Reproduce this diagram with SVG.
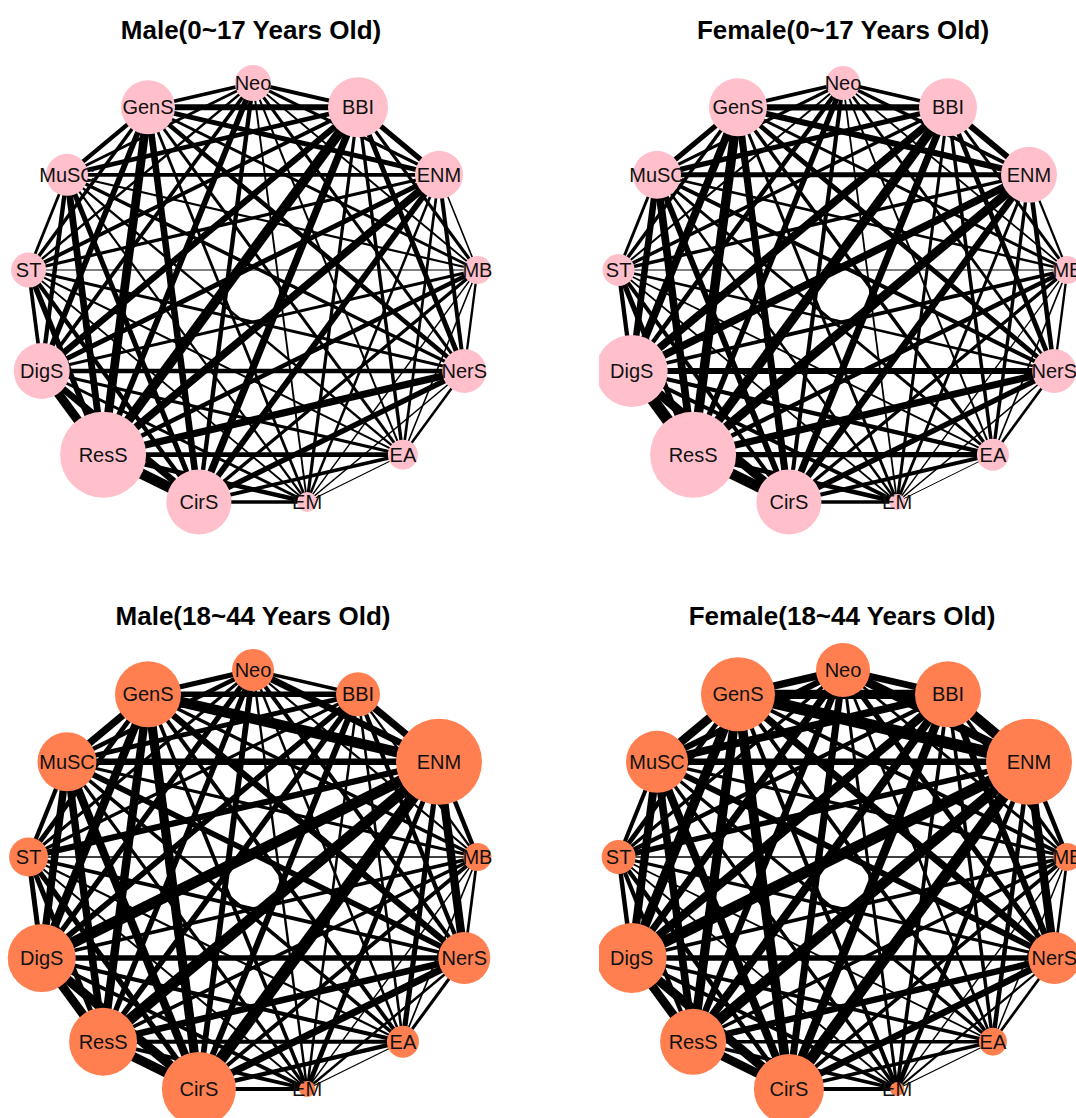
<svg xmlns="http://www.w3.org/2000/svg" width="1076" height="1118" viewBox="0 0 1076 1118">
<style>
.tt{font-family:"Liberation Sans",Arial,sans-serif;font-size:26px;font-weight:bold;text-anchor:middle;fill:#000}
.lb{font-family:"Liberation Sans",Arial,sans-serif;font-size:20px;text-anchor:middle;fill:#111}
.edges{stroke:#000;fill:none}
.pk circle{fill:#FFC0CB}
.co circle{fill:#FF7F50}
</style>
<defs>
<clipPath id="clipR"><rect x="599" y="0" width="477" height="1118"/></clipPath>
<line id="e0-1" x1="0" y1="-212.6" x2="105" y2="-188.3"/>
<line id="e0-2" x1="0" y1="-212.6" x2="186" y2="-120.8"/>
<line id="e0-3" x1="0" y1="-212.6" x2="224.4" y2="-25.6"/>
<line id="e0-4" x1="0" y1="-212.6" x2="211.3" y2="75.4"/>
<line id="e0-5" x1="0" y1="-212.6" x2="149.9" y2="159.1"/>
<line id="e0-6" x1="0" y1="-212.6" x2="54.1" y2="206.4"/>
<line id="e0-7" x1="0" y1="-212.6" x2="-54.1" y2="206.4"/>
<line id="e0-8" x1="0" y1="-212.6" x2="-149.9" y2="159.1"/>
<line id="e0-9" x1="0" y1="-212.6" x2="-211.3" y2="75.4"/>
<line id="e0-10" x1="0" y1="-212.6" x2="-224.4" y2="-25.6"/>
<line id="e0-11" x1="0" y1="-212.6" x2="-186" y2="-120.8"/>
<line id="e0-12" x1="0" y1="-212.6" x2="-105" y2="-188.3"/>
<line id="e1-2" x1="105" y1="-188.3" x2="186" y2="-120.8"/>
<line id="e1-3" x1="105" y1="-188.3" x2="224.4" y2="-25.6"/>
<line id="e1-4" x1="105" y1="-188.3" x2="211.3" y2="75.4"/>
<line id="e1-5" x1="105" y1="-188.3" x2="149.9" y2="159.1"/>
<line id="e1-6" x1="105" y1="-188.3" x2="54.1" y2="206.4"/>
<line id="e1-7" x1="105" y1="-188.3" x2="-54.1" y2="206.4"/>
<line id="e1-8" x1="105" y1="-188.3" x2="-149.9" y2="159.1"/>
<line id="e1-9" x1="105" y1="-188.3" x2="-211.3" y2="75.4"/>
<line id="e1-10" x1="105" y1="-188.3" x2="-224.4" y2="-25.6"/>
<line id="e1-11" x1="105" y1="-188.3" x2="-186" y2="-120.8"/>
<line id="e1-12" x1="105" y1="-188.3" x2="-105" y2="-188.3"/>
<line id="e2-3" x1="186" y1="-120.8" x2="224.4" y2="-25.6"/>
<line id="e2-4" x1="186" y1="-120.8" x2="211.3" y2="75.4"/>
<line id="e2-5" x1="186" y1="-120.8" x2="149.9" y2="159.1"/>
<line id="e2-6" x1="186" y1="-120.8" x2="54.1" y2="206.4"/>
<line id="e2-7" x1="186" y1="-120.8" x2="-54.1" y2="206.4"/>
<line id="e2-8" x1="186" y1="-120.8" x2="-149.9" y2="159.1"/>
<line id="e2-9" x1="186" y1="-120.8" x2="-211.3" y2="75.4"/>
<line id="e2-10" x1="186" y1="-120.8" x2="-224.4" y2="-25.6"/>
<line id="e2-11" x1="186" y1="-120.8" x2="-186" y2="-120.8"/>
<line id="e2-12" x1="186" y1="-120.8" x2="-105" y2="-188.3"/>
<line id="e3-4" x1="224.4" y1="-25.6" x2="211.3" y2="75.4"/>
<line id="e3-5" x1="224.4" y1="-25.6" x2="149.9" y2="159.1"/>
<line id="e3-6" x1="224.4" y1="-25.6" x2="54.1" y2="206.4"/>
<line id="e3-7" x1="224.4" y1="-25.6" x2="-54.1" y2="206.4"/>
<line id="e3-8" x1="224.4" y1="-25.6" x2="-149.9" y2="159.1"/>
<line id="e3-9" x1="224.4" y1="-25.6" x2="-211.3" y2="75.4"/>
<line id="e3-10" x1="224.4" y1="-25.6" x2="-224.4" y2="-25.6"/>
<line id="e3-11" x1="224.4" y1="-25.6" x2="-186" y2="-120.8"/>
<line id="e3-12" x1="224.4" y1="-25.6" x2="-105" y2="-188.3"/>
<line id="e4-5" x1="211.3" y1="75.4" x2="149.9" y2="159.1"/>
<line id="e4-6" x1="211.3" y1="75.4" x2="54.1" y2="206.4"/>
<line id="e4-7" x1="211.3" y1="75.4" x2="-54.1" y2="206.4"/>
<line id="e4-8" x1="211.3" y1="75.4" x2="-149.9" y2="159.1"/>
<line id="e4-9" x1="211.3" y1="75.4" x2="-211.3" y2="75.4"/>
<line id="e4-10" x1="211.3" y1="75.4" x2="-224.4" y2="-25.6"/>
<line id="e4-11" x1="211.3" y1="75.4" x2="-186" y2="-120.8"/>
<line id="e4-12" x1="211.3" y1="75.4" x2="-105" y2="-188.3"/>
<line id="e5-6" x1="149.9" y1="159.1" x2="54.1" y2="206.4"/>
<line id="e5-7" x1="149.9" y1="159.1" x2="-54.1" y2="206.4"/>
<line id="e5-8" x1="149.9" y1="159.1" x2="-149.9" y2="159.1"/>
<line id="e5-9" x1="149.9" y1="159.1" x2="-211.3" y2="75.4"/>
<line id="e5-10" x1="149.9" y1="159.1" x2="-224.4" y2="-25.6"/>
<line id="e5-11" x1="149.9" y1="159.1" x2="-186" y2="-120.8"/>
<line id="e5-12" x1="149.9" y1="159.1" x2="-105" y2="-188.3"/>
<line id="e6-7" x1="54.1" y1="206.4" x2="-54.1" y2="206.4"/>
<line id="e6-8" x1="54.1" y1="206.4" x2="-149.9" y2="159.1"/>
<line id="e6-9" x1="54.1" y1="206.4" x2="-211.3" y2="75.4"/>
<line id="e6-10" x1="54.1" y1="206.4" x2="-224.4" y2="-25.6"/>
<line id="e6-11" x1="54.1" y1="206.4" x2="-186" y2="-120.8"/>
<line id="e6-12" x1="54.1" y1="206.4" x2="-105" y2="-188.3"/>
<line id="e7-8" x1="-54.1" y1="206.4" x2="-149.9" y2="159.1"/>
<line id="e7-9" x1="-54.1" y1="206.4" x2="-211.3" y2="75.4"/>
<line id="e7-10" x1="-54.1" y1="206.4" x2="-224.4" y2="-25.6"/>
<line id="e7-11" x1="-54.1" y1="206.4" x2="-186" y2="-120.8"/>
<line id="e7-12" x1="-54.1" y1="206.4" x2="-105" y2="-188.3"/>
<line id="e8-9" x1="-149.9" y1="159.1" x2="-211.3" y2="75.4"/>
<line id="e8-10" x1="-149.9" y1="159.1" x2="-224.4" y2="-25.6"/>
<line id="e8-11" x1="-149.9" y1="159.1" x2="-186" y2="-120.8"/>
<line id="e8-12" x1="-149.9" y1="159.1" x2="-105" y2="-188.3"/>
<line id="e9-10" x1="-211.3" y1="75.4" x2="-224.4" y2="-25.6"/>
<line id="e9-11" x1="-211.3" y1="75.4" x2="-186" y2="-120.8"/>
<line id="e9-12" x1="-211.3" y1="75.4" x2="-105" y2="-188.3"/>
<line id="e10-11" x1="-224.4" y1="-25.6" x2="-186" y2="-120.8"/>
<line id="e10-12" x1="-224.4" y1="-25.6" x2="-105" y2="-188.3"/>
<line id="e11-12" x1="-186" y1="-120.8" x2="-105" y2="-188.3"/>
</defs>
<rect width="1076" height="1118" fill="#fff"/>

<!-- Panel 1 -->
<g id="panel1">
<text class="tt" x="251" y="39">Male(0~17 Years Old)</text>
<g id="p1-edges" class="edges" transform="translate(253,295.6)">
<use href="#e0-1" stroke-width="4"/><use href="#e0-2" stroke-width="3.2"/><use href="#e0-3" stroke-width="1.9"/><use href="#e0-4" stroke-width="3"/><use href="#e0-5" stroke-width="2"/><use href="#e0-6" stroke-width="1.9"/><use href="#e0-7" stroke-width="4.4"/><use href="#e0-8" stroke-width="5.8"/><use href="#e0-9" stroke-width="3.8"/><use href="#e0-10" stroke-width="2.4"/><use href="#e0-11" stroke-width="2.8"/><use href="#e0-12" stroke-width="3.6"/>
<use href="#e1-2" stroke-width="5.4"/><use href="#e1-3" stroke-width="3.2"/><use href="#e1-4" stroke-width="5"/><use href="#e1-5" stroke-width="3.4"/><use href="#e1-6" stroke-width="3.2"/><use href="#e1-7" stroke-width="7.3"/><use href="#e1-8" stroke-width="9.7"/><use href="#e1-9" stroke-width="6.3"/><use href="#e1-10" stroke-width="3.9"/><use href="#e1-11" stroke-width="4.7"/><use href="#e1-12" stroke-width="6.1"/>
<use href="#e2-3" stroke-width="1.6"/><use href="#e2-4" stroke-width="4"/><use href="#e2-5" stroke-width="2.7"/><use href="#e2-6" stroke-width="2.5"/><use href="#e2-7" stroke-width="5.9"/><use href="#e2-8" stroke-width="7.7"/><use href="#e2-9" stroke-width="5"/><use href="#e2-10" stroke-width="3.2"/><use href="#e2-11" stroke-width="3.8"/><use href="#e2-12" stroke-width="4.9"/>
<use href="#e3-4" stroke-width="2.3"/><use href="#e3-5" stroke-width="1.6"/><use href="#e3-6" stroke-width="1.3"/><use href="#e3-7" stroke-width="3.4"/><use href="#e3-8" stroke-width="4.5"/><use href="#e3-9" stroke-width="2.9"/><use href="#e3-10" stroke-width="1.2"/><use href="#e3-11" stroke-width="2.2"/><use href="#e3-12" stroke-width="2.8"/>
<use href="#e4-5" stroke-width="2.5"/><use href="#e4-6" stroke-width="1.6"/><use href="#e4-7" stroke-width="5.4"/><use href="#e4-8" stroke-width="7.1"/><use href="#e4-9" stroke-width="4.6"/><use href="#e4-10" stroke-width="2.9"/><use href="#e4-11" stroke-width="3.5"/><use href="#e4-12" stroke-width="4.5"/>
<use href="#e5-6" stroke-width="1.1"/><use href="#e5-7" stroke-width="3.7"/><use href="#e5-8" stroke-width="4.8"/><use href="#e5-9" stroke-width="3.2"/><use href="#e5-10" stroke-width="2"/><use href="#e5-11" stroke-width="2.4"/><use href="#e5-12" stroke-width="3"/>
<use href="#e6-7" stroke-width="3.4"/><use href="#e6-8" stroke-width="4.5"/><use href="#e6-9" stroke-width="2.9"/><use href="#e6-10" stroke-width="1.8"/><use href="#e6-11" stroke-width="2.2"/><use href="#e6-12" stroke-width="2.8"/>
<use href="#e7-8" stroke-width="10.5"/><use href="#e7-9" stroke-width="6.8"/><use href="#e7-10" stroke-width="4.3"/><use href="#e7-11" stroke-width="5.1"/><use href="#e7-12" stroke-width="6.6"/>
<use href="#e8-9" stroke-width="9"/><use href="#e8-10" stroke-width="5.6"/><use href="#e8-11" stroke-width="6.8"/><use href="#e8-12" stroke-width="8.7"/>
<use href="#e9-10" stroke-width="3.7"/><use href="#e9-11" stroke-width="4.4"/><use href="#e9-12" stroke-width="5.7"/>
<use href="#e10-11" stroke-width="2.8"/><use href="#e10-12" stroke-width="3.5"/><use href="#e11-12" stroke-width="4.3"/>
</g>
<g class="pk" transform="translate(253,295.6)">
<g id="p1-Neo"><circle cx="0" cy="-212.6" r="18"/><text class="lb" x="0" y="-205.6">Neo</text></g>
<g id="p1-BBI"><circle cx="105" cy="-188.3" r="30"/><text class="lb" x="105" y="-181.3">BBI</text></g>
<g id="p1-ENM"><circle cx="186" cy="-120.8" r="24"/><text class="lb" x="186" y="-113.8">ENM</text></g>
<g id="p1-MB"><circle cx="224.4" cy="-25.6" r="14"/><text class="lb" x="224.4" y="-18.6">MB</text></g>
<g id="p1-NerS"><circle cx="211.3" cy="75.4" r="22"/><text class="lb" x="211.3" y="82.4">NerS</text></g>
<g id="p1-EA"><circle cx="149.9" cy="159.1" r="15"/><text class="lb" x="149.9" y="166.1">EA</text></g>
<g id="p1-EM"><circle cx="54.1" cy="206.4" r="10"/><text class="lb" x="54.1" y="213.4">EM</text></g>
<g id="p1-CirS"><circle cx="-54.1" cy="206.4" r="32.5"/><text class="lb" x="-54.1" y="213.4">CirS</text></g>
<g id="p1-ResS"><circle cx="-149.9" cy="159.1" r="43"/><text class="lb" x="-149.9" y="166.1">ResS</text></g>
<g id="p1-DigS"><circle cx="-211.3" cy="75.4" r="28"/><text class="lb" x="-211.3" y="82.4">DigS</text></g>
<g id="p1-ST"><circle cx="-224.4" cy="-25.6" r="17.5"/><text class="lb" x="-224.4" y="-18.6">ST</text></g>
<g id="p1-MuSC"><circle cx="-186" cy="-120.8" r="21"/><text class="lb" x="-186" y="-113.8">MuSC</text></g>
<g id="p1-GenS"><circle cx="-105" cy="-188.3" r="27"/><text class="lb" x="-105" y="-181.3">GenS</text></g>
</g>
</g>

<!-- Panel 2 -->
<g id="panel2">
<text class="tt" x="843" y="39">Female(0~17 Years Old)</text>
<g clip-path="url(#clipR)">
<g id="p2-edges" class="edges" transform="translate(843,295.6)">
<use href="#e0-1" stroke-width="3.7"/><use href="#e0-2" stroke-width="3.6"/><use href="#e0-3" stroke-width="1.8"/><use href="#e0-4" stroke-width="2.8"/><use href="#e0-5" stroke-width="2"/><use href="#e0-6" stroke-width="1.8"/><use href="#e0-7" stroke-width="4.1"/><use href="#e0-8" stroke-width="5.5"/><use href="#e0-9" stroke-width="4.6"/><use href="#e0-10" stroke-width="2"/><use href="#e0-11" stroke-width="3.1"/><use href="#e0-12" stroke-width="3.7"/>
<use href="#e1-2" stroke-width="6.1"/><use href="#e1-3" stroke-width="3"/><use href="#e1-4" stroke-width="4.8"/><use href="#e1-5" stroke-width="3.5"/><use href="#e1-6" stroke-width="3"/><use href="#e1-7" stroke-width="7.1"/><use href="#e1-8" stroke-width="9.4"/><use href="#e1-9" stroke-width="7.8"/><use href="#e1-10" stroke-width="3.5"/><use href="#e1-11" stroke-width="5.2"/><use href="#e1-12" stroke-width="6.3"/>
<use href="#e2-3" stroke-width="2.2"/><use href="#e2-4" stroke-width="4.6"/><use href="#e2-5" stroke-width="3.4"/><use href="#e2-6" stroke-width="2.9"/><use href="#e2-7" stroke-width="6.8"/><use href="#e2-8" stroke-width="9"/><use href="#e2-9" stroke-width="7.6"/><use href="#e2-10" stroke-width="3.4"/><use href="#e2-11" stroke-width="5"/><use href="#e2-12" stroke-width="6.1"/>
<use href="#e3-4" stroke-width="2.3"/><use href="#e3-5" stroke-width="1.7"/><use href="#e3-6" stroke-width="1.3"/><use href="#e3-7" stroke-width="3.4"/><use href="#e3-8" stroke-width="4.5"/><use href="#e3-9" stroke-width="3.8"/><use href="#e3-10" stroke-width="1.2"/><use href="#e3-11" stroke-width="2.5"/><use href="#e3-12" stroke-width="3"/>
<use href="#e4-5" stroke-width="2.6"/><use href="#e4-6" stroke-width="1.6"/><use href="#e4-7" stroke-width="5.4"/><use href="#e4-8" stroke-width="7.1"/><use href="#e4-9" stroke-width="5.9"/><use href="#e4-10" stroke-width="2.6"/><use href="#e4-11" stroke-width="4"/><use href="#e4-12" stroke-width="4.8"/>
<use href="#e5-6" stroke-width="1"/><use href="#e5-7" stroke-width="3.9"/><use href="#e5-8" stroke-width="5.2"/><use href="#e5-9" stroke-width="4.3"/><use href="#e5-10" stroke-width="1.9"/><use href="#e5-11" stroke-width="2.9"/><use href="#e5-12" stroke-width="3.5"/>
<use href="#e6-7" stroke-width="3.4"/><use href="#e6-8" stroke-width="4.5"/><use href="#e6-9" stroke-width="3.8"/><use href="#e6-10" stroke-width="1.7"/><use href="#e6-11" stroke-width="2.5"/><use href="#e6-12" stroke-width="3"/>
<use href="#e7-8" stroke-width="10.5"/><use href="#e7-9" stroke-width="8.8"/><use href="#e7-10" stroke-width="3.9"/><use href="#e7-11" stroke-width="5.9"/><use href="#e7-12" stroke-width="7.1"/>
<use href="#e8-9" stroke-width="11.6"/><use href="#e8-10" stroke-width="5.2"/><use href="#e8-11" stroke-width="7.7"/><use href="#e8-12" stroke-width="9.4"/>
<use href="#e9-10" stroke-width="4.3"/><use href="#e9-11" stroke-width="6.5"/><use href="#e9-12" stroke-width="7.8"/>
<use href="#e10-11" stroke-width="2.9"/><use href="#e10-12" stroke-width="3.5"/><use href="#e11-12" stroke-width="5.2"/>
</g>
<g class="pk" transform="translate(843,295.6)">
<g id="p2-Neo"><circle cx="0" cy="-212.6" r="17"/><text class="lb" x="0" y="-205.6">Neo</text></g>
<g id="p2-BBI"><circle cx="105" cy="-188.3" r="29"/><text class="lb" x="105" y="-181.3">BBI</text></g>
<g id="p2-ENM"><circle cx="186" cy="-120.8" r="28"/><text class="lb" x="186" y="-113.8">ENM</text></g>
<g id="p2-MB"><circle cx="224.4" cy="-25.6" r="14"/><text class="lb" x="224.4" y="-18.6">MB</text></g>
<g id="p2-NerS"><circle cx="211.3" cy="75.4" r="22"/><text class="lb" x="211.3" y="82.4">NerS</text></g>
<g id="p2-EA"><circle cx="149.9" cy="159.1" r="16"/><text class="lb" x="149.9" y="166.1">EA</text></g>
<g id="p2-EM"><circle cx="54.1" cy="206.4" r="8"/><text class="lb" x="54.1" y="213.4">EM</text></g>
<g id="p2-CirS"><circle cx="-54.1" cy="206.4" r="32.5"/><text class="lb" x="-54.1" y="213.4">CirS</text></g>
<g id="p2-ResS"><circle cx="-149.9" cy="159.1" r="43"/><text class="lb" x="-149.9" y="166.1">ResS</text></g>
<g id="p2-DigS"><circle cx="-211.3" cy="75.4" r="36"/><text class="lb" x="-211.3" y="82.4">DigS</text></g>
<g id="p2-ST"><circle cx="-224.4" cy="-25.6" r="16"/><text class="lb" x="-224.4" y="-18.6">ST</text></g>
<g id="p2-MuSC"><circle cx="-186" cy="-120.8" r="24"/><text class="lb" x="-186" y="-113.8">MuSC</text></g>
<g id="p2-GenS"><circle cx="-105" cy="-188.3" r="29"/><text class="lb" x="-105" y="-181.3">GenS</text></g>
</g>
</g>
</g>

<!-- Panel 3 -->
<g id="panel3">
<text class="tt" x="253" y="625">Male(18~44 Years Old)</text>
<g id="p3-edges" class="edges" transform="translate(253,882.6)">
<use href="#e0-1" stroke-width="3.5"/><use href="#e0-2" stroke-width="6.8"/><use href="#e0-3" stroke-width="2.2"/><use href="#e0-4" stroke-width="4.1"/><use href="#e0-5" stroke-width="2.5"/><use href="#e0-6" stroke-width="2.4"/><use href="#e0-7" stroke-width="5.8"/><use href="#e0-8" stroke-width="5.4"/><use href="#e0-9" stroke-width="5.4"/><use href="#e0-10" stroke-width="3.1"/><use href="#e0-11" stroke-width="4.6"/><use href="#e0-12" stroke-width="5.2"/>
<use href="#e1-2" stroke-width="7.1"/><use href="#e1-3" stroke-width="2.3"/><use href="#e1-4" stroke-width="4.3"/><use href="#e1-5" stroke-width="2.6"/><use href="#e1-6" stroke-width="2.5"/><use href="#e1-7" stroke-width="6.1"/><use href="#e1-8" stroke-width="5.6"/><use href="#e1-9" stroke-width="5.6"/><use href="#e1-10" stroke-width="3.2"/><use href="#e1-11" stroke-width="4.9"/><use href="#e1-12" stroke-width="5.4"/>
<use href="#e2-3" stroke-width="4.5"/><use href="#e2-4" stroke-width="8.4"/><use href="#e2-5" stroke-width="5.2"/><use href="#e2-6" stroke-width="4.8"/><use href="#e2-7" stroke-width="11.9"/><use href="#e2-8" stroke-width="11"/><use href="#e2-9" stroke-width="11"/><use href="#e2-10" stroke-width="6.3"/><use href="#e2-11" stroke-width="6.5"/><use href="#e2-12" stroke-width="10.6"/>
<use href="#e3-4" stroke-width="2.7"/><use href="#e3-5" stroke-width="1.7"/><use href="#e3-6" stroke-width="1.4"/><use href="#e3-7" stroke-width="3.9"/><use href="#e3-8" stroke-width="3.6"/><use href="#e3-9" stroke-width="3.6"/><use href="#e3-10" stroke-width="1.3"/><use href="#e3-11" stroke-width="3.1"/><use href="#e3-12" stroke-width="3.5"/>
<use href="#e4-5" stroke-width="3.1"/><use href="#e4-6" stroke-width="2.5"/><use href="#e4-7" stroke-width="7.2"/><use href="#e4-8" stroke-width="6.6"/><use href="#e4-9" stroke-width="5.5"/><use href="#e4-10" stroke-width="3.8"/><use href="#e4-11" stroke-width="5.8"/><use href="#e4-12" stroke-width="6.4"/>
<use href="#e5-6" stroke-width="1.2"/><use href="#e5-7" stroke-width="4.4"/><use href="#e5-8" stroke-width="4.1"/><use href="#e5-9" stroke-width="4.1"/><use href="#e5-10" stroke-width="2.3"/><use href="#e5-11" stroke-width="3.5"/><use href="#e5-12" stroke-width="4"/>
<use href="#e6-7" stroke-width="4.2"/><use href="#e6-8" stroke-width="3.8"/><use href="#e6-9" stroke-width="3.8"/><use href="#e6-10" stroke-width="2"/><use href="#e6-11" stroke-width="3.3"/><use href="#e6-12" stroke-width="3.7"/>
<use href="#e7-8" stroke-width="9.4"/><use href="#e7-9" stroke-width="9.4"/><use href="#e7-10" stroke-width="5.4"/><use href="#e7-11" stroke-width="8.2"/><use href="#e7-12" stroke-width="9.2"/>
<use href="#e8-9" stroke-width="8.7"/><use href="#e8-10" stroke-width="5"/><use href="#e8-11" stroke-width="7.5"/><use href="#e8-12" stroke-width="8.4"/>
<use href="#e9-10" stroke-width="5"/><use href="#e9-11" stroke-width="7.5"/><use href="#e9-12" stroke-width="8.4"/>
<use href="#e10-11" stroke-width="4.3"/><use href="#e10-12" stroke-width="4.8"/><use href="#e11-12" stroke-width="7.3"/>
</g>
<g class="co" transform="translate(253,882.6)">
<g id="p3-Neo"><circle cx="0" cy="-212.6" r="21"/><text class="lb" x="0" y="-205.6">Neo</text></g>
<g id="p3-BBI"><circle cx="105" cy="-188.3" r="22"/><text class="lb" x="105" y="-181.3">BBI</text></g>
<g id="p3-ENM"><circle cx="186" cy="-120.8" r="43"/><text class="lb" x="186" y="-113.8">ENM</text></g>
<g id="p3-MB"><circle cx="224.4" cy="-25.6" r="14"/><text class="lb" x="224.4" y="-18.6">MB</text></g>
<g id="p3-NerS"><circle cx="211.3" cy="75.4" r="26"/><text class="lb" x="211.3" y="82.4">NerS</text></g>
<g id="p3-EA"><circle cx="149.9" cy="159.1" r="16"/><text class="lb" x="149.9" y="166.1">EA</text></g>
<g id="p3-EM"><circle cx="54.1" cy="206.4" r="8"/><text class="lb" x="54.1" y="213.4">EM</text></g>
<g id="p3-CirS"><circle cx="-54.1" cy="206.4" r="37"/><text class="lb" x="-54.1" y="213.4">CirS</text></g>
<g id="p3-ResS"><circle cx="-149.9" cy="159.1" r="34"/><text class="lb" x="-149.9" y="166.1">ResS</text></g>
<g id="p3-DigS"><circle cx="-211.3" cy="75.4" r="34"/><text class="lb" x="-211.3" y="82.4">DigS</text></g>
<g id="p3-ST"><circle cx="-224.4" cy="-25.6" r="19.5"/><text class="lb" x="-224.4" y="-18.6">ST</text></g>
<g id="p3-MuSC"><circle cx="-186" cy="-120.8" r="29.5"/><text class="lb" x="-186" y="-113.8">MuSC</text></g>
<g id="p3-GenS"><circle cx="-105" cy="-188.3" r="33"/><text class="lb" x="-105" y="-181.3">GenS</text></g>
</g>
</g>

<!-- Panel 4 -->
<g id="panel4">
<text class="tt" x="842" y="625">Female(18~44 Years Old)</text>
<g clip-path="url(#clipR)">
<g id="p4-edges" class="edges" transform="translate(843,882.6)">
<use href="#e0-1" stroke-width="6.7"/><use href="#e0-2" stroke-width="8.7"/><use href="#e0-3" stroke-width="2.8"/><use href="#e0-4" stroke-width="5.3"/><use href="#e0-5" stroke-width="2.8"/><use href="#e0-6" stroke-width="3"/><use href="#e0-7" stroke-width="7.1"/><use href="#e0-8" stroke-width="6.7"/><use href="#e0-9" stroke-width="7.1"/><use href="#e0-10" stroke-width="3.4"/><use href="#e0-11" stroke-width="6.3"/><use href="#e0-12" stroke-width="7.5"/>
<use href="#e1-2" stroke-width="10.6"/><use href="#e1-3" stroke-width="3.5"/><use href="#e1-4" stroke-width="6.4"/><use href="#e1-5" stroke-width="3.5"/><use href="#e1-6" stroke-width="3.7"/><use href="#e1-7" stroke-width="8.7"/><use href="#e1-8" stroke-width="8.2"/><use href="#e1-9" stroke-width="8.7"/><use href="#e1-10" stroke-width="4.2"/><use href="#e1-11" stroke-width="7.7"/><use href="#e1-12" stroke-width="9.2"/>
<use href="#e2-3" stroke-width="4.5"/><use href="#e2-4" stroke-width="8.4"/><use href="#e2-5" stroke-width="4.5"/><use href="#e2-6" stroke-width="4.8"/><use href="#e2-7" stroke-width="11.3"/><use href="#e2-8" stroke-width="10.6"/><use href="#e2-9" stroke-width="11.3"/><use href="#e2-10" stroke-width="5.5"/><use href="#e2-11" stroke-width="6.5"/><use href="#e2-12" stroke-width="11.9"/>
<use href="#e3-4" stroke-width="2.7"/><use href="#e3-5" stroke-width="1.5"/><use href="#e3-6" stroke-width="1.4"/><use href="#e3-7" stroke-width="3.7"/><use href="#e3-8" stroke-width="3.5"/><use href="#e3-9" stroke-width="3.7"/><use href="#e3-10" stroke-width="1.3"/><use href="#e3-11" stroke-width="3.3"/><use href="#e3-12" stroke-width="3.9"/>
<use href="#e4-5" stroke-width="2.7"/><use href="#e4-6" stroke-width="2.2"/><use href="#e4-7" stroke-width="6.8"/><use href="#e4-8" stroke-width="6.4"/><use href="#e4-9" stroke-width="5.5"/><use href="#e4-10" stroke-width="3.3"/><use href="#e4-11" stroke-width="6"/><use href="#e4-12" stroke-width="7.2"/>
<use href="#e5-6" stroke-width="1.2"/><use href="#e5-7" stroke-width="3.7"/><use href="#e5-8" stroke-width="3.5"/><use href="#e5-9" stroke-width="3.7"/><use href="#e5-10" stroke-width="1.8"/><use href="#e5-11" stroke-width="3.3"/><use href="#e5-12" stroke-width="3.9"/>
<use href="#e6-7" stroke-width="3.9"/><use href="#e6-8" stroke-width="3.7"/><use href="#e6-9" stroke-width="3.9"/><use href="#e6-10" stroke-width="1.9"/><use href="#e6-11" stroke-width="3.5"/><use href="#e6-12" stroke-width="4.2"/>
<use href="#e7-8" stroke-width="8.7"/><use href="#e7-9" stroke-width="9.2"/><use href="#e7-10" stroke-width="4.5"/><use href="#e7-11" stroke-width="8.1"/><use href="#e7-12" stroke-width="9.7"/>
<use href="#e8-9" stroke-width="8.7"/><use href="#e8-10" stroke-width="4.2"/><use href="#e8-11" stroke-width="7.7"/><use href="#e8-12" stroke-width="9.2"/>
<use href="#e9-10" stroke-width="4.5"/><use href="#e9-11" stroke-width="8.1"/><use href="#e9-12" stroke-width="9.7"/>
<use href="#e10-11" stroke-width="4"/><use href="#e10-12" stroke-width="4.7"/><use href="#e11-12" stroke-width="8.6"/>
</g>
<g class="co" transform="translate(843,882.6)">
<g id="p4-Neo"><circle cx="0" cy="-212.6" r="27"/><text class="lb" x="0" y="-205.6">Neo</text></g>
<g id="p4-BBI"><circle cx="105" cy="-188.3" r="33"/><text class="lb" x="105" y="-181.3">BBI</text></g>
<g id="p4-ENM"><circle cx="186" cy="-120.8" r="43"/><text class="lb" x="186" y="-113.8">ENM</text></g>
<g id="p4-MB"><circle cx="224.4" cy="-25.6" r="14"/><text class="lb" x="224.4" y="-18.6">MB</text></g>
<g id="p4-NerS"><circle cx="211.3" cy="75.4" r="26"/><text class="lb" x="211.3" y="82.4">NerS</text></g>
<g id="p4-EA"><circle cx="149.9" cy="159.1" r="14"/><text class="lb" x="149.9" y="166.1">EA</text></g>
<g id="p4-EM"><circle cx="54.1" cy="206.4" r="7"/><text class="lb" x="54.1" y="213.4">EM</text></g>
<g id="p4-CirS"><circle cx="-54.1" cy="206.4" r="35"/><text class="lb" x="-54.1" y="213.4">CirS</text></g>
<g id="p4-ResS"><circle cx="-149.9" cy="159.1" r="33"/><text class="lb" x="-149.9" y="166.1">ResS</text></g>
<g id="p4-DigS"><circle cx="-211.3" cy="75.4" r="35"/><text class="lb" x="-211.3" y="82.4">DigS</text></g>
<g id="p4-ST"><circle cx="-224.4" cy="-25.6" r="17"/><text class="lb" x="-224.4" y="-18.6">ST</text></g>
<g id="p4-MuSC"><circle cx="-186" cy="-120.8" r="31"/><text class="lb" x="-186" y="-113.8">MuSC</text></g>
<g id="p4-GenS"><circle cx="-105" cy="-188.3" r="37"/><text class="lb" x="-105" y="-181.3">GenS</text></g>
</g>
</g>
</g>
</svg>
